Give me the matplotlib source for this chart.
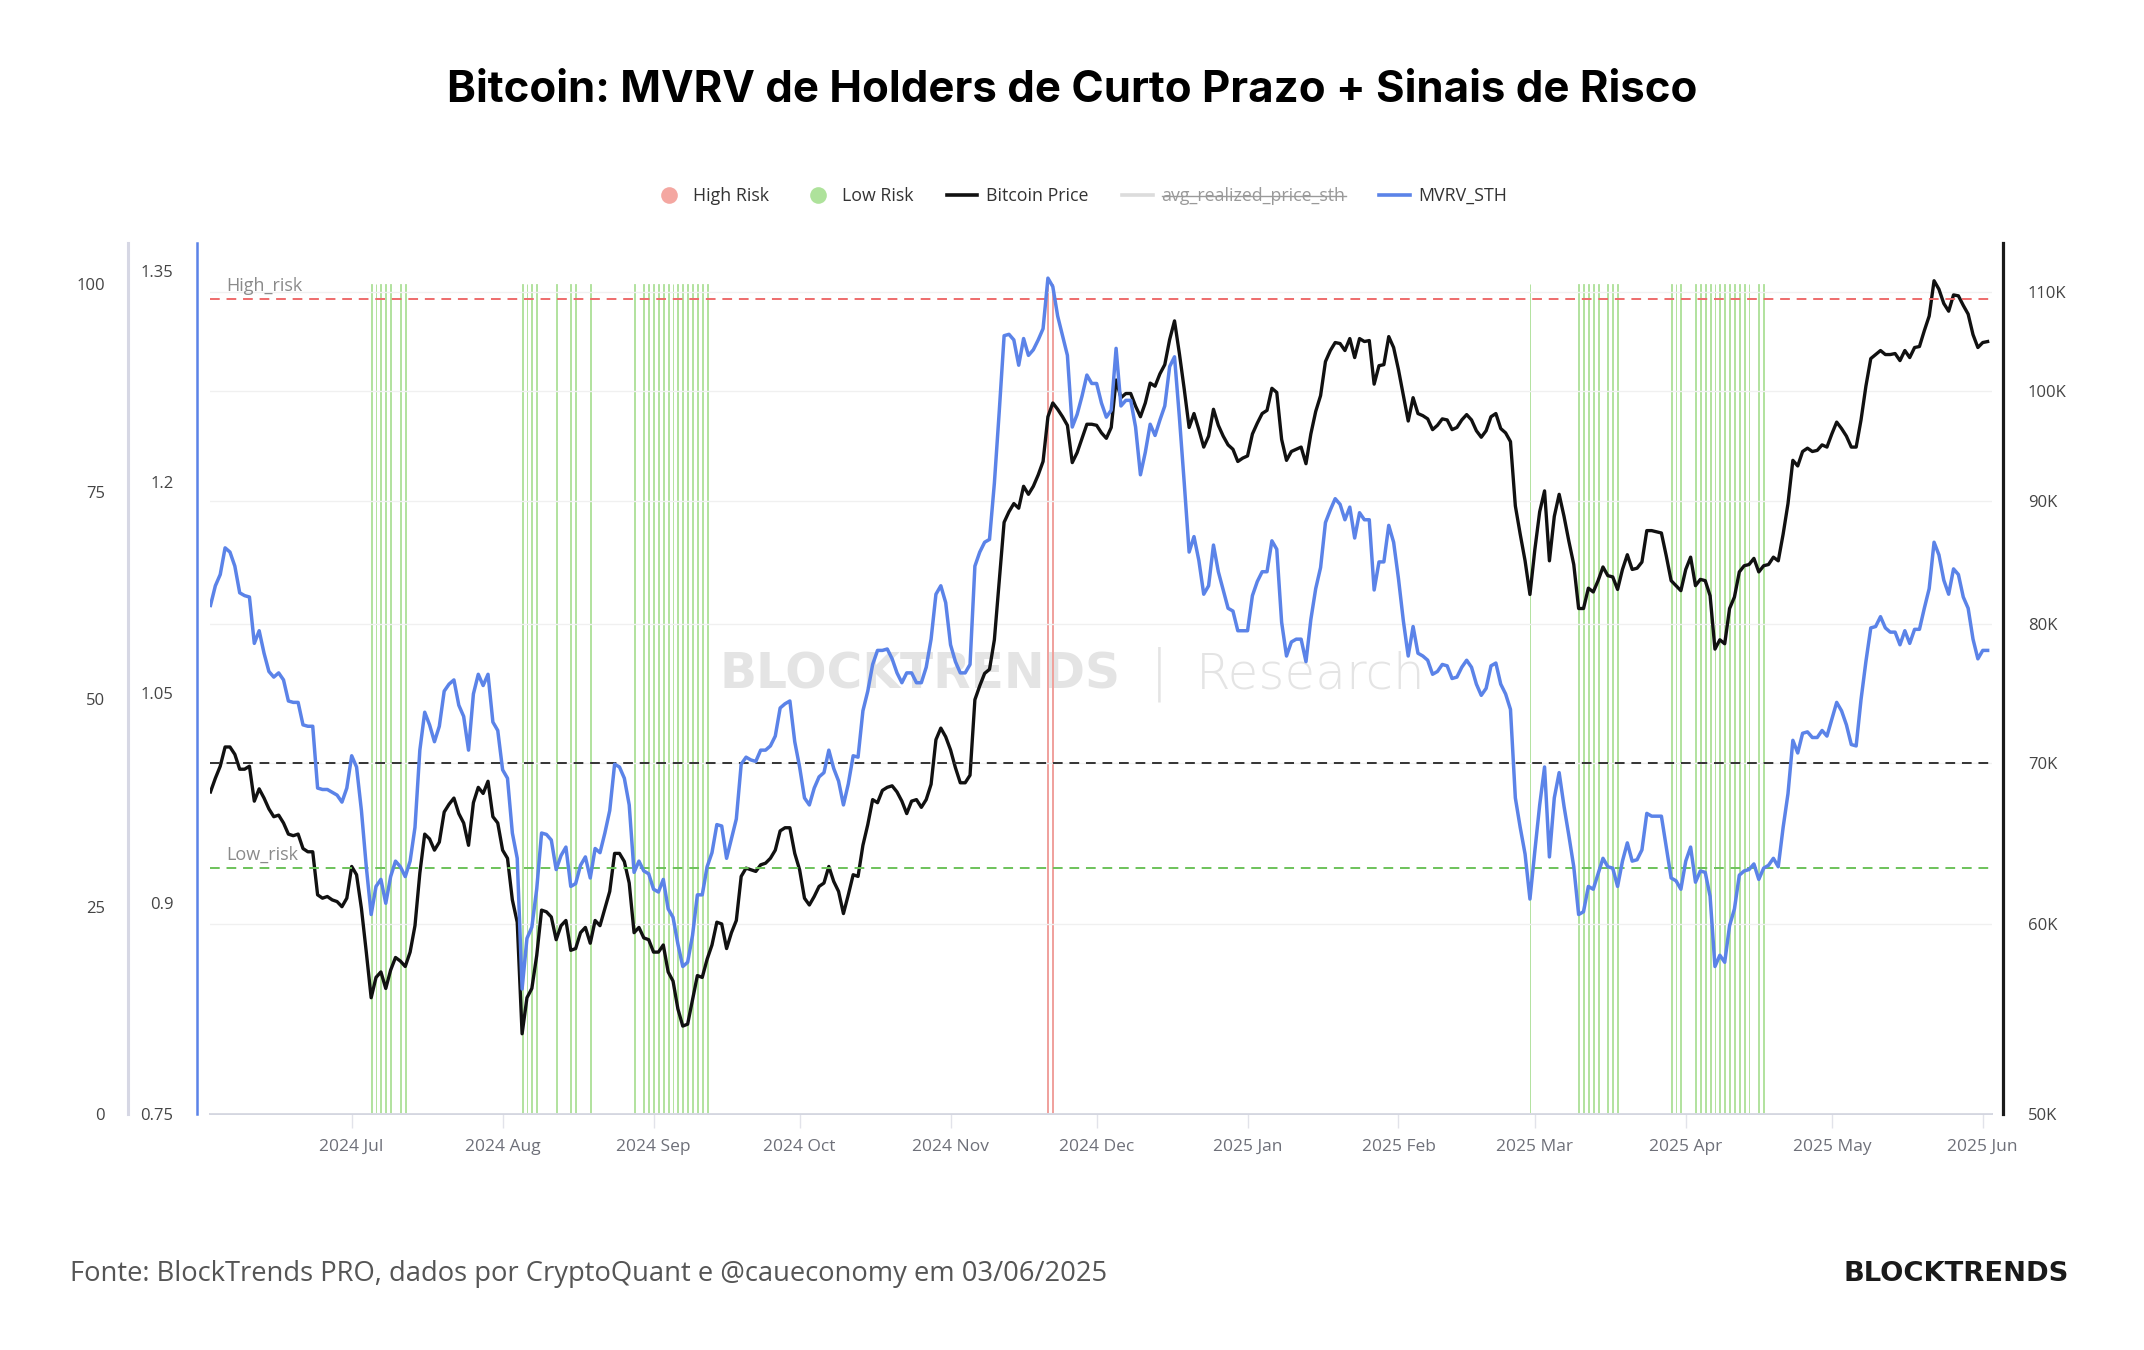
import matplotlib
matplotlib.use("Agg")
import matplotlib.pyplot as plt
import matplotlib.dates as mdates
import matplotlib.transforms as mtransforms
from matplotlib.lines import Line2D
from matplotlib.ticker import FixedLocator, FuncFormatter, NullLocator
import numpy as np
import pandas as pd

plt.rcParams["font.family"] = ["Open Sans", "DejaVu Sans"]

START_DATE = "2024-06-02"

# preço diário do Bitcoin (milhares de USD), de 2024-06-02 a 2025-06-02
btc_price_k = [
    68.1, 69.0, 69.8, 71.1, 71.1, 70.6, 69.6, 69.6, 69.8, 67.5, 68.3, 67.7, 67.0, 66.5, 66.6, 66.1,
    65.4, 65.3, 65.4, 64.5, 64.3, 64.3, 61.7, 61.5, 61.6, 61.4, 61.3, 61.0, 61.5, 63.4, 62.9, 60.9,
    58.4, 55.9, 57.0, 57.3, 56.4, 57.4, 58.1, 57.9, 57.6, 58.4, 59.9, 63.0, 65.4, 65.1, 64.4, 64.9,
    66.8, 67.3, 67.7, 66.7, 66.1, 64.7, 67.4, 68.4, 68.0, 68.8, 66.5, 66.1, 64.4, 63.9, 61.4, 60.1,
    54.0, 55.9, 56.4, 58.2, 60.8, 60.7, 60.4, 59.1, 59.9, 60.2, 58.5, 58.6, 59.5, 59.8, 58.9, 60.2,
    59.9, 60.9, 61.9, 64.2, 64.2, 63.7, 62.4, 59.5, 59.8, 59.2, 59.1, 58.4, 58.4, 58.8, 57.3, 56.8,
    55.3, 54.4, 54.5, 55.8, 57.1, 57.0, 58.0, 58.8, 60.1, 60.0, 58.6, 59.5, 60.2, 62.8, 63.3, 63.2,
    63.1, 63.5, 63.6, 63.9, 64.4, 65.6, 65.8, 65.8, 64.2, 63.2, 61.5, 61.1, 61.6, 62.2, 62.4, 63.4,
    62.5, 61.9, 60.6, 61.7, 62.9, 62.8, 64.7, 66.0, 67.6, 67.4, 68.2, 68.4, 68.5, 68.1, 67.5, 66.7,
    67.5, 67.6, 67.1, 67.6, 68.6, 71.6, 72.4, 71.8, 70.9, 69.7, 68.7, 68.7, 69.2, 74.4, 75.4, 76.3,
    76.6, 78.8, 83.4, 88.2, 89.1, 89.8, 89.4, 91.3, 90.6, 91.3, 92.3, 93.5, 97.6, 98.9, 98.3, 97.6,
    96.8, 93.4, 94.3, 95.6, 96.9, 96.9, 96.8, 96.1, 95.6, 96.6, 101.1, 99.4, 99.8, 99.8, 98.6, 97.6,
    98.9, 100.8, 100.5, 101.7, 102.6, 105.1, 107.0, 103.7, 100.2, 96.6, 97.9, 96.4, 94.8, 95.8, 98.3, 96.8,
    95.8, 95.0, 94.6, 93.5, 93.8, 94.0, 96.0, 97.0, 97.9, 98.2, 100.3, 99.9, 95.5, 93.6, 94.4, 94.6,
    94.8, 93.3, 96.0, 98.1, 99.6, 102.9, 104.0, 104.8, 104.7, 104.0, 105.2, 103.3, 105.2, 104.9, 105.0, 100.7,
    102.5, 102.6, 105.4, 104.3, 102.1, 99.6, 97.2, 99.4, 97.9, 97.7, 97.4, 96.4, 96.8, 97.4, 97.3, 96.4,
    96.6, 97.3, 97.8, 97.3, 96.3, 95.7, 96.3, 97.6, 97.9, 96.5, 96.1, 95.3, 89.6, 87.2, 85.0, 82.3,
    85.9, 89.1, 90.9, 85.0, 88.7, 90.6, 88.7, 86.6, 84.7, 81.2, 81.2, 82.8, 82.5, 83.4, 84.5, 83.8,
    83.7, 82.7, 84.3, 85.5, 84.3, 84.4, 84.9, 87.5, 87.5, 87.4, 87.3, 85.4, 83.4, 83.0, 82.6, 84.3,
    85.3, 83.0, 83.5, 83.4, 82.2, 78.1, 78.8, 78.5, 81.2, 82.1, 84.1, 84.6, 84.7, 85.2, 84.1, 84.6,
    84.7, 85.3, 85.0, 87.2, 89.8, 93.6, 93.1, 94.4, 94.7, 94.4, 94.5, 95.0, 94.8, 96.0, 97.1, 96.5,
    95.8, 94.8, 94.8, 97.3, 100.5, 103.2, 103.6, 104.0, 103.6, 103.6, 103.7, 103.0, 104.0, 103.3, 104.3, 104.4,
    106.0, 107.5, 111.2, 110.3, 108.8, 108.0, 109.7, 109.6, 108.6, 107.7, 105.6, 104.3, 104.8, 104.9,
]

# MVRV dos holders de curto prazo, mesmas datas
mvrv_sth = [
    1.112, 1.126, 1.134, 1.153, 1.150, 1.140, 1.121, 1.119, 1.118, 1.085, 1.094, 1.078, 1.065, 1.061, 1.064, 1.059,
    1.044, 1.043, 1.043, 1.027, 1.026, 1.026, 0.982, 0.981, 0.981, 0.979, 0.977, 0.972, 0.982, 1.005, 0.997, 0.966,
    0.926, 0.892, 0.912, 0.917, 0.900, 0.919, 0.930, 0.926, 0.919, 0.930, 0.954, 1.009, 1.036, 1.027, 1.015, 1.026,
    1.051, 1.056, 1.059, 1.041, 1.033, 1.009, 1.049, 1.063, 1.055, 1.063, 1.029, 1.023, 0.995, 0.989, 0.950, 0.932,
    0.839, 0.875, 0.883, 0.910, 0.950, 0.949, 0.945, 0.924, 0.934, 0.940, 0.912, 0.914, 0.927, 0.933, 0.918, 0.939,
    0.936, 0.950, 0.966, 0.999, 0.997, 0.989, 0.970, 0.922, 0.930, 0.923, 0.921, 0.910, 0.908, 0.917, 0.896, 0.890,
    0.871, 0.855, 0.858, 0.877, 0.906, 0.906, 0.926, 0.936, 0.956, 0.955, 0.932, 0.946, 0.960, 0.999, 1.004, 1.002,
    1.001, 1.009, 1.009, 1.012, 1.019, 1.039, 1.042, 1.044, 1.015, 0.997, 0.975, 0.970, 0.982, 0.990, 0.993, 1.009,
    0.996, 0.987, 0.970, 0.985, 1.005, 1.004, 1.037, 1.051, 1.070, 1.080, 1.080, 1.081, 1.074, 1.064, 1.057, 1.064,
    1.064, 1.057, 1.057, 1.068, 1.088, 1.120, 1.126, 1.114, 1.084, 1.072, 1.064, 1.064, 1.070, 1.140, 1.150, 1.157,
    1.159, 1.199, 1.250, 1.304, 1.305, 1.301, 1.283, 1.302, 1.290, 1.294, 1.301, 1.309, 1.345, 1.339, 1.318, 1.304,
    1.290, 1.239, 1.248, 1.261, 1.276, 1.270, 1.270, 1.256, 1.246, 1.251, 1.295, 1.254, 1.258, 1.258, 1.239, 1.205,
    1.221, 1.241, 1.233, 1.244, 1.254, 1.282, 1.289, 1.246, 1.199, 1.150, 1.161, 1.144, 1.120, 1.126, 1.155, 1.136,
    1.123, 1.110, 1.108, 1.094, 1.094, 1.094, 1.119, 1.129, 1.136, 1.136, 1.158, 1.152, 1.100, 1.076, 1.086, 1.088,
    1.088, 1.072, 1.102, 1.124, 1.139, 1.171, 1.180, 1.188, 1.184, 1.173, 1.182, 1.160, 1.178, 1.173, 1.173, 1.123,
    1.143, 1.143, 1.169, 1.157, 1.131, 1.101, 1.076, 1.097, 1.078, 1.076, 1.073, 1.063, 1.065, 1.070, 1.069, 1.060,
    1.061, 1.068, 1.073, 1.068, 1.056, 1.048, 1.053, 1.069, 1.071, 1.056, 1.049, 1.038, 0.975, 0.954, 0.935, 0.903,
    0.937, 0.970, 0.997, 0.933, 0.975, 0.993, 0.969, 0.948, 0.926, 0.892, 0.894, 0.912, 0.910, 0.921, 0.932, 0.926,
    0.925, 0.912, 0.930, 0.943, 0.930, 0.931, 0.938, 0.964, 0.962, 0.962, 0.962, 0.940, 0.918, 0.916, 0.910, 0.930,
    0.940, 0.915, 0.923, 0.922, 0.905, 0.855, 0.863, 0.858, 0.884, 0.896, 0.920, 0.923, 0.924, 0.928, 0.917, 0.925,
    0.927, 0.932, 0.926, 0.954, 0.978, 1.016, 1.007, 1.021, 1.022, 1.018, 1.018, 1.023, 1.019, 1.031, 1.043, 1.037,
    1.027, 1.013, 1.012, 1.045, 1.072, 1.096, 1.097, 1.104, 1.096, 1.093, 1.093, 1.084, 1.094, 1.085, 1.095, 1.095,
    1.110, 1.124, 1.157, 1.148, 1.130, 1.120, 1.138, 1.134, 1.118, 1.110, 1.088, 1.074, 1.080, 1.080,
]

# dias (contados a partir de START_DATE) com sinal de risco
low_risk_days = [33, 34, 35, 36, 37, 39, 40,
                 64, 65, 66, 67, 71, 74, 75, 78,
                 87, 89, 90, 91, 92, 93, 94, 95, 96, 97, 98, 99, 100, 101, 102,
                 271, 281, 282, 283, 284, 285, 287, 288, 289,
                 300, 301, 302, 305, 306, 307, 308, 309, 310, 311, 312, 313, 314, 315, 316, 318, 319]
high_risk_days = [172, 173]
signal_level = 100

HIGH_RISK = 1.33
LOW_RISK = 0.925
MVRV_BREAKEVEN = 1.0

price_ticks_k = [50, 60, 70, 80, 90, 100, 110]
mvrv_ticks = [0.75, 0.9, 1.05, 1.2, 1.35]
signal_ticks = [0, 25, 50, 75, 100]

BLUE = "#5b83e8"
BLACK = "#111111"
W, H = 2144, 1350


def style_axis(axis):
    axis.set_facecolor("none")
    for side in ("top", "left", "right", "bottom"):
        axis.spines[side].set_visible(False)
    axis.tick_params(axis="y", length=0, labelsize=12, labelcolor="#444444")


def main() -> None:
    dates = pd.date_range(START_DATE, periods=len(btc_price_k), freq="D")
    x = mdates.date2num(dates)
    price = np.array(btc_price_k) * 1000

    fig = plt.figure(figsize=(W / 100, H / 100), dpi=100)
    rect = [210 / W, 1 - 1114 / H, (1992 - 210) / W, (1114 - 243) / H]

    ax_sig = fig.add_axes(rect)
    ax_price = fig.add_axes(rect, sharex=ax_sig)
    ax_mvrv = fig.add_axes(rect, sharex=ax_sig)
    for axis in (ax_sig, ax_price, ax_mvrv):
        style_axis(axis)
    ax_sig.set_zorder(0)
    ax_price.set_zorder(1)
    ax_mvrv.set_zorder(2)

    # sinais de risco (eixo 0-100)
    ax_sig.bar(x[low_risk_days], [signal_level] * len(low_risk_days), width=0.18,
               color="#cdeec0", edgecolor="#b2e29e", linewidth=0.7, zorder=1)
    ax_sig.bar(x[high_risk_days], [signal_level] * len(high_risk_days), width=0.18,
               color="#f6c2bf", edgecolor="#f0a19c", linewidth=0.7, zorder=1)
    ax_sig.set_ylim(0, 105)
    ax_sig.yaxis.set_major_locator(FixedLocator(signal_ticks))
    ax_sig.spines["left"].set_visible(True)
    ax_sig.spines["left"].set_position(("outward", 82 * 0.72))
    ax_sig.spines["left"].set_color("#d6d7e4")
    ax_sig.spines["left"].set_linewidth(2.2)
    ax_sig.tick_params(axis="y", pad=16.5)
    ax_sig.spines["bottom"].set_visible(True)
    ax_sig.spines["bottom"].set_color("#d3d5e0")
    ax_sig.spines["bottom"].set_linewidth(1.4)

    # marca d'água
    wm_kw = dict(transform=fig.transFigure, va="center", color="#e4e4e4", zorder=0)
    ax_sig.text(0.5228, 0.5007, "BLOCKTRENDS", ha="right", fontsize=35,
                fontweight="bold", family="DejaVu Sans", **wm_kw)
    ax_sig.text(0.5406, 0.5007, "|", ha="center", fontsize=40,
                fontweight="light", family="DejaVu Sans", **wm_kw)
    ax_sig.text(0.5578, 0.5007, "Research", ha="left", fontsize=36,
                fontweight="light", family="DejaVu Sans", **wm_kw)

    # preço (escala log, eixo da direita)
    ax_price.plot(x, price, color=BLACK, lw=2.4, zorder=3)
    ax_price.set_yscale("log")
    ax_price.set_ylim(50000, 115300)
    ax_price.yaxis.set_major_locator(FixedLocator([v * 1000 for v in price_ticks_k]))
    ax_price.yaxis.set_minor_locator(NullLocator())
    ax_price.yaxis.set_major_formatter(FuncFormatter(lambda v, _: f"{v / 1000:.0f}K"))
    ax_price.yaxis.tick_right()
    ax_price.spines["right"].set_visible(True)
    ax_price.spines["right"].set_position(("outward", 11 * 0.72))
    ax_price.spines["right"].set_color("#1a1a1a")
    ax_price.spines["right"].set_linewidth(2.3)
    ax_price.tick_params(axis="y", pad=18)
    ax_price.set_axisbelow(True)
    ax_price.grid(axis="y", color="#f0f0f0", lw=1.0)

    # MVRV STH (eixo da esquerda)
    ax_mvrv.plot(x, mvrv_sth, color=BLUE, lw=2.5, zorder=4)
    ax_mvrv.set_ylim(0.75, 1.37)
    ax_mvrv.yaxis.set_major_locator(FixedLocator(mvrv_ticks))
    ax_mvrv.yaxis.set_major_formatter(FuncFormatter(lambda v, _: f"{v:g}"))
    ax_mvrv.spines["left"].set_visible(True)
    ax_mvrv.spines["left"].set_position(("outward", 13 * 0.72))
    ax_mvrv.spines["left"].set_color(BLUE)
    ax_mvrv.spines["left"].set_linewidth(1.8)
    ax_mvrv.tick_params(axis="y", pad=17)

    dash = (0, (5, 3.5))
    ax_mvrv.axhline(HIGH_RISK, color="#ee6b6b", lw=1.4, ls=dash, zorder=2)
    ax_mvrv.axhline(LOW_RISK, color="#6cc25a", lw=1.4, ls=dash, zorder=2)
    ax_mvrv.axhline(MVRV_BREAKEVEN, color="#333333", lw=1.4, ls=dash, zorder=2)
    lbl = mtransforms.blended_transform_factory(ax_mvrv.transAxes, ax_mvrv.transData)
    ax_mvrv.text(0.009, HIGH_RISK + 0.003, "High_risk", transform=lbl, color="#8a8a8a",
                 fontsize=13, va="bottom")
    ax_mvrv.text(0.009, LOW_RISK + 0.003, "Low_risk", transform=lbl, color="#8a8a8a",
                 fontsize=13, va="bottom")

    ax_sig.set_xlim(x[0] - 0.1, x[-1] + 0.9)
    ax_sig.xaxis.set_major_locator(mdates.MonthLocator())
    ax_sig.xaxis.set_major_formatter(mdates.DateFormatter("%Y %b"))
    ax_sig.tick_params(axis="x", length=10, width=1, color="#e2e3ea", pad=8,
                       labelsize=12.5, labelcolor="#6e7079")
    for axis in (ax_price, ax_mvrv):
        axis.tick_params(axis="x", bottom=False, labelbottom=False)

    # título, legenda e rodapé
    fig.text(0.5, 1 - 91 / H, "Bitcoin: MVRV de Holders de Curto Prazo + Sinais de Risco",
             ha="center", va="center", fontsize=31.5, fontweight="bold", family="Inter",
             color="#000000")

    handles = [
        Line2D([], [], ls="", marker="o", markersize=12, markerfacecolor="#f4a7a1",
               markeredgecolor="none"),
        Line2D([], [], ls="", marker="o", markersize=12, markerfacecolor="#aee29b",
               markeredgecolor="none"),
        Line2D([], [], color=BLACK, lw=2.6),
        Line2D([], [], color="#dcdcdc", lw=2.6),
        Line2D([], [], color=BLUE, lw=2.6),
    ]
    labels = ["High Risk", "Low Risk", "Bitcoin Price", "avg_realized_price_sth", "MVRV_STH"]
    leg = fig.legend(handles, labels, loc="center", bbox_to_anchor=(0.504, 1 - 196 / H),
                     ncol=5, frameon=False, fontsize=12.8, handlelength=1.7,
                     handletextpad=0.5, columnspacing=1.9)
    for text in leg.get_texts():
        text.set_color("#333333")
    hidden = leg.get_texts()[3]
    hidden.set_color("#9a9a9a")

    fig.text(70 / W, 1 - 1274 / H,
             "Fonte: BlockTrends PRO, dados por CryptoQuant e @caueconomy em 03/06/2025",
             ha="left", va="center", fontsize=19.7, color="#555555")
    fig.text(2069 / W, 1 - 1274 / H, "BLOCKTRENDS", ha="right", va="center",
             fontsize=19.7, fontweight="heavy", family="DejaVu Sans", color="#1a1a1a")

    fig.canvas.draw()
    bb = hidden.get_window_extent()
    ymid = (bb.y0 + bb.y1) / 2 / H
    fig.add_artist(Line2D([bb.x0 / W, bb.x1 / W], [ymid, ymid], transform=fig.transFigure,
                          color="#9a9a9a", lw=1.0))

    fig.savefig("out.png", dpi=100, facecolor="white")
    plt.close(fig)


if __name__ == "__main__":
    main()
